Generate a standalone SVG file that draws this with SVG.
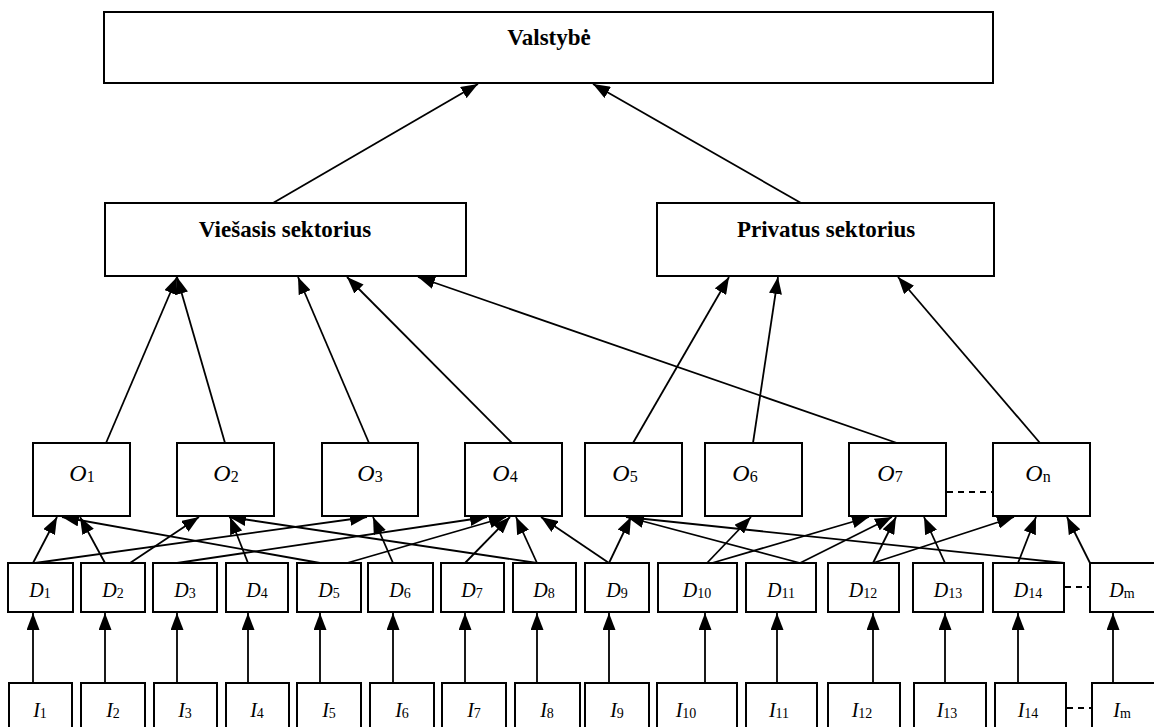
<svg xmlns="http://www.w3.org/2000/svg" width="1154" height="727" viewBox="0 0 1154 727">
<style>
.box{fill:#fff;stroke:#000;stroke-width:2}
.ln{stroke:#000;stroke-width:1.8;fill:none;marker-end:url(#ah)}
.dash{stroke:#000;stroke-width:1.8;stroke-dasharray:6 5;fill:none}
.title{font-family:"Liberation Serif",serif;font-weight:bold;font-size:23px;text-anchor:middle}
.lbl{font-family:"Liberation Serif",serif;font-style:italic;font-size:20px;text-anchor:middle}
.olbl{font-family:"Liberation Serif",serif;font-style:italic;font-size:24px;text-anchor:middle}
.sub{font-style:normal;font-size:14px}
.osub{font-style:normal;font-size:16px}
</style>
<defs>
<marker id="ah" markerUnits="userSpaceOnUse" markerWidth="17" markerHeight="13" viewBox="0 0 17 13" refX="17" refY="6.5" orient="auto">
<path d="M0,0 L17,6.5 L0,13 z" fill="#000"/>
</marker>
</defs>
<rect width="1154" height="727" fill="#fff"/>
<g id="connectors">
<line class="ln" x1="273" y1="203" x2="478" y2="84"/>
<line class="ln" x1="801" y1="203" x2="593" y2="84"/>
<line class="ln" x1="106" y1="443" x2="177" y2="277"/>
<line class="ln" x1="225" y1="443" x2="177" y2="277"/>
<line class="ln" x1="369" y1="443" x2="298" y2="277"/>
<line class="ln" x1="512" y1="443" x2="347" y2="277"/>
<line class="ln" x1="897" y1="443" x2="418" y2="277"/>
<line class="ln" x1="633" y1="443" x2="729" y2="277"/>
<line class="ln" x1="753" y1="443" x2="778" y2="277"/>
<line class="ln" x1="1040" y1="443" x2="898" y2="277"/>
<line class="ln" x1="33" y1="563" x2="57" y2="517"/>
<line class="ln" x1="35" y1="563" x2="367" y2="517"/>
<line class="ln" x1="105" y1="563" x2="80" y2="517"/>
<line class="ln" x1="130" y1="563" x2="199" y2="517"/>
<line class="ln" x1="177" y1="563" x2="487" y2="517"/>
<line class="ln" x1="248" y1="563" x2="230" y2="517"/>
<line class="ln" x1="320" y1="563" x2="62" y2="517"/>
<line class="ln" x1="347" y1="563" x2="506" y2="517"/>
<line class="ln" x1="393" y1="563" x2="373" y2="517"/>
<line class="ln" x1="465" y1="563" x2="510" y2="517"/>
<line class="ln" x1="537" y1="563" x2="516" y2="517"/>
<line class="ln" x1="537" y1="563" x2="229" y2="517"/>
<line class="ln" x1="609" y1="563" x2="541" y2="517"/>
<line class="ln" x1="609" y1="563" x2="631" y2="517"/>
<line class="ln" x1="707" y1="563" x2="751" y2="517"/>
<line class="ln" x1="712" y1="563" x2="869" y2="517"/>
<line class="ln" x1="800" y1="563" x2="627" y2="517"/>
<line class="ln" x1="800" y1="563" x2="892" y2="517"/>
<line class="ln" x1="873" y1="563" x2="896" y2="517"/>
<line class="ln" x1="873" y1="563" x2="1014" y2="517"/>
<line class="ln" x1="945" y1="563" x2="924" y2="517"/>
<line class="ln" x1="1018" y1="563" x2="1036" y2="517"/>
<line class="ln" x1="1090" y1="563" x2="1067" y2="517"/>
<line class="ln" x1="1064" y1="563" x2="626" y2="517"/>
<line class="ln" x1="33" y1="683" x2="33" y2="613"/>
<line class="ln" x1="105" y1="683" x2="105" y2="613"/>
<line class="ln" x1="177" y1="683" x2="177" y2="613"/>
<line class="ln" x1="248" y1="683" x2="248" y2="613"/>
<line class="ln" x1="320" y1="683" x2="320" y2="613"/>
<line class="ln" x1="393" y1="683" x2="393" y2="613"/>
<line class="ln" x1="465" y1="683" x2="465" y2="613"/>
<line class="ln" x1="537" y1="683" x2="537" y2="613"/>
<line class="ln" x1="609" y1="683" x2="609" y2="613"/>
<line class="ln" x1="705" y1="683" x2="705" y2="613"/>
<line class="ln" x1="777" y1="683" x2="777" y2="613"/>
<line class="ln" x1="873" y1="683" x2="873" y2="613"/>
<line class="ln" x1="945" y1="683" x2="945" y2="613"/>
<line class="ln" x1="1018" y1="683" x2="1018" y2="613"/>
<line class="ln" x1="1113" y1="683" x2="1113" y2="613"/>
<line class="dash" x1="947" y1="492" x2="993" y2="492"/>
<line class="dash" x1="1065" y1="587" x2="1090" y2="587"/>
<line class="dash" x1="1067" y1="708" x2="1092" y2="708"/>
</g>
<g id="valstybe"><rect class="box" x="104" y="12" width="889" height="71"/><text class="title" x="549" y="45">Valstybė</text></g>
<g id="viesasis"><rect class="box" x="105" y="203" width="361" height="73"/><text class="title" x="285" y="237">Viešasis sektorius</text></g>
<g id="privatus"><rect class="box" x="657" y="203" width="337" height="73"/><text class="title" x="826" y="237">Privatus sektorius</text></g>
<g id="O1"><rect class="box" x="33" y="443" width="97" height="73"/><text class="olbl" x="82" y="481">O<tspan class="osub" dy="1">1</tspan></text></g>
<g id="O2"><rect class="box" x="177" y="443" width="97" height="73"/><text class="olbl" x="226" y="481">O<tspan class="osub" dy="1">2</tspan></text></g>
<g id="O3"><rect class="box" x="322" y="443" width="96" height="73"/><text class="olbl" x="370" y="481">O<tspan class="osub" dy="1">3</tspan></text></g>
<g id="O4"><rect class="box" x="465" y="443" width="97" height="73"/><text class="olbl" x="505" y="481">O<tspan class="osub" dy="1">4</tspan></text></g>
<g id="O5"><rect class="box" x="585" y="443" width="97" height="73"/><text class="olbl" x="625" y="481">O<tspan class="osub" dy="1">5</tspan></text></g>
<g id="O6"><rect class="box" x="705" y="443" width="97" height="73"/><text class="olbl" x="745" y="481">O<tspan class="osub" dy="1">6</tspan></text></g>
<g id="O7"><rect class="box" x="849" y="443" width="97" height="73"/><text class="olbl" x="890" y="481">O<tspan class="osub" dy="1">7</tspan></text></g>
<g id="On"><rect class="box" x="993" y="443" width="97" height="73"/><text class="olbl" x="1038" y="481">O<tspan class="osub" dy="1">n</tspan></text></g>
<g id="D1"><rect class="box" x="8" y="563" width="65" height="49"/><text class="lbl" x="40" y="597">D<tspan class="sub" dy="1">1</tspan></text></g>
<g id="D2"><rect class="box" x="81" y="563" width="64" height="49"/><text class="lbl" x="113" y="597">D<tspan class="sub" dy="1">2</tspan></text></g>
<g id="D3"><rect class="box" x="153" y="563" width="64" height="49"/><text class="lbl" x="185" y="597">D<tspan class="sub" dy="1">3</tspan></text></g>
<g id="D4"><rect class="box" x="226" y="563" width="62" height="49"/><text class="lbl" x="257" y="597">D<tspan class="sub" dy="1">4</tspan></text></g>
<g id="D5"><rect class="box" x="297" y="563" width="64" height="49"/><text class="lbl" x="329" y="597">D<tspan class="sub" dy="1">5</tspan></text></g>
<g id="D6"><rect class="box" x="368" y="563" width="65" height="49"/><text class="lbl" x="400" y="597">D<tspan class="sub" dy="1">6</tspan></text></g>
<g id="D7"><rect class="box" x="441" y="563" width="63" height="49"/><text class="lbl" x="472" y="597">D<tspan class="sub" dy="1">7</tspan></text></g>
<g id="D8"><rect class="box" x="513" y="563" width="63" height="49"/><text class="lbl" x="544" y="597">D<tspan class="sub" dy="1">8</tspan></text></g>
<g id="D9"><rect class="box" x="585" y="563" width="64" height="49"/><text class="lbl" x="617" y="597">D<tspan class="sub" dy="1">9</tspan></text></g>
<g id="D10"><rect class="box" x="658" y="563" width="79" height="49"/><text class="lbl" x="697" y="597">D<tspan class="sub" dy="1">10</tspan></text></g>
<g id="D11"><rect class="box" x="746" y="563" width="70" height="49"/><text class="lbl" x="781" y="597">D<tspan class="sub" dy="1">11</tspan></text></g>
<g id="D12"><rect class="box" x="828" y="563" width="71" height="49"/><text class="lbl" x="863" y="597">D<tspan class="sub" dy="1">12</tspan></text></g>
<g id="D13"><rect class="box" x="913" y="563" width="70" height="49"/><text class="lbl" x="948" y="597">D<tspan class="sub" dy="1">13</tspan></text></g>
<g id="D14"><rect class="box" x="993" y="563" width="71" height="49"/><text class="lbl" x="1028" y="597">D<tspan class="sub" dy="1">14</tspan></text></g>
<g id="Dm"><rect class="box" x="1090" y="563" width="65" height="49"/><text class="lbl" x="1122" y="597">D<tspan class="sub" dy="1">m</tspan></text></g>
<g id="I1"><rect class="box" x="9" y="683" width="63" height="52"/><text class="lbl" x="40" y="717">I<tspan class="sub" dy="1">1</tspan></text></g>
<g id="I2"><rect class="box" x="81" y="683" width="64" height="52"/><text class="lbl" x="113" y="717">I<tspan class="sub" dy="1">2</tspan></text></g>
<g id="I3"><rect class="box" x="154" y="683" width="63" height="52"/><text class="lbl" x="185" y="717">I<tspan class="sub" dy="1">3</tspan></text></g>
<g id="I4"><rect class="box" x="226" y="683" width="63" height="52"/><text class="lbl" x="257" y="717">I<tspan class="sub" dy="1">4</tspan></text></g>
<g id="I5"><rect class="box" x="297" y="683" width="64" height="52"/><text class="lbl" x="329" y="717">I<tspan class="sub" dy="1">5</tspan></text></g>
<g id="I6"><rect class="box" x="370" y="683" width="64" height="52"/><text class="lbl" x="402" y="717">I<tspan class="sub" dy="1">6</tspan></text></g>
<g id="I7"><rect class="box" x="442" y="683" width="64" height="52"/><text class="lbl" x="474" y="717">I<tspan class="sub" dy="1">7</tspan></text></g>
<g id="I8"><rect class="box" x="515" y="683" width="65" height="52"/><text class="lbl" x="547" y="717">I<tspan class="sub" dy="1">8</tspan></text></g>
<g id="I9"><rect class="box" x="585" y="683" width="64" height="52"/><text class="lbl" x="617" y="717">I<tspan class="sub" dy="1">9</tspan></text></g>
<g id="I10"><rect class="box" x="657" y="683" width="80" height="52"/><text class="lbl" x="686" y="717">I<tspan class="sub" dy="1">10</tspan></text></g>
<g id="I11"><rect class="box" x="746" y="683" width="71" height="52"/><text class="lbl" x="779" y="717">I<tspan class="sub" dy="1">11</tspan></text></g>
<g id="I12"><rect class="box" x="828" y="683" width="72" height="52"/><text class="lbl" x="862" y="717">I<tspan class="sub" dy="1">12</tspan></text></g>
<g id="I13"><rect class="box" x="914" y="683" width="72" height="52"/><text class="lbl" x="947" y="717">I<tspan class="sub" dy="1">13</tspan></text></g>
<g id="I14"><rect class="box" x="995" y="683" width="71" height="52"/><text class="lbl" x="1028" y="717">I<tspan class="sub" dy="1">14</tspan></text></g>
<g id="Im"><rect class="box" x="1092" y="683" width="64" height="52"/><text class="lbl" x="1122" y="717">I<tspan class="sub" dy="1">m</tspan></text></g>
</svg>
